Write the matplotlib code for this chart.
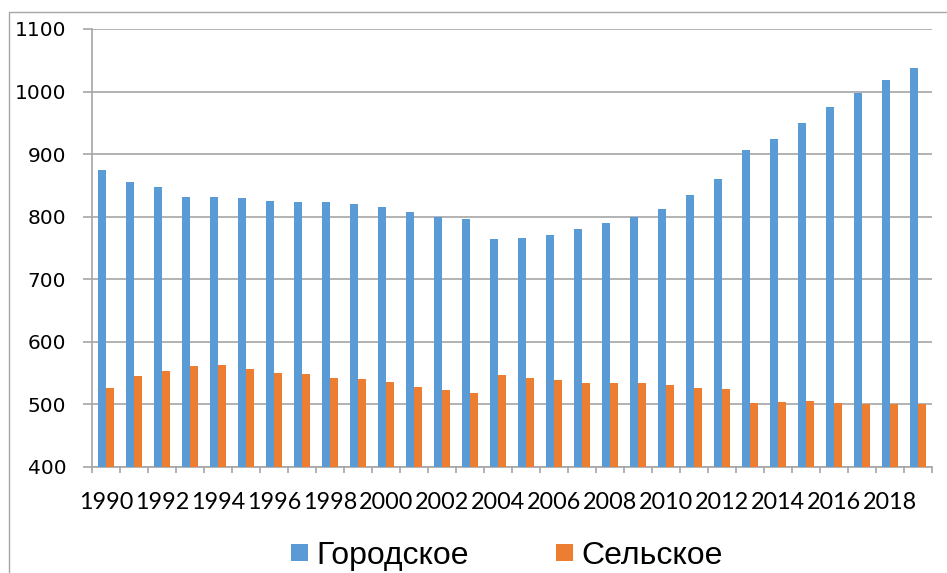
import numpy as np
import matplotlib
matplotlib.use("Agg")
import matplotlib.pyplot as plt
from matplotlib.patches import Rectangle, Patch

years = list(range(1990, 2020))
urban = [875, 856, 847, 832, 832, 830, 825, 823, 824, 821,
         816, 808, 800, 797, 765, 766, 771, 780, 790, 800,
         812, 835, 860, 906, 924, 950, 975, 998, 1018, 1038]
rural = [526, 545, 553, 562, 563, 556, 550, 548, 543, 541,
         536, 528, 523, 519, 547, 543, 539, 535, 534, 535,
         531, 527, 525, 503, 504, 505, 503, 500, 500, 500]
series_names = ["Городское", "Сельское"]
colors = ["#5B9BD5", "#ED7D31"]
yticks = [400, 500, 600, 700, 800, 900, 1000, 1100]

W, H = 947, 573
fig = plt.figure(figsize=(W / 100, H / 100), dpi=100)
ax = fig.add_axes([92 / W, (H - 467) / H, 840 / W, 438 / H])

x = np.arange(len(years))
bw = 0.286
ax.bar(x - bw / 2, urban, width=bw, color=colors[0], zorder=3)
ax.bar(x + bw / 2, rural, width=bw, color=colors[1], zorder=3)

grid_c = "#a6a6a6"
ax.set_xlim(-0.5, len(years) - 0.5)
ax.set_ylim(400, 1100)
ax.set_yticks(yticks)
ax.set_yticklabels([str(v) for v in yticks], fontsize=14.5, family="DejaVu Sans")
ax.yaxis.grid(True, color=grid_c, lw=1.2, zorder=0)
ax.set_axisbelow(True)

ax.set_xticks(x[::2])
ax.set_xticklabels([str(y) for y in years[::2]], fontsize=16.8, family="Lato")
ax.set_xticks(np.arange(-0.5, len(years), 1), minor=True)
ax.tick_params(axis="x", which="major", length=0, pad=18)
ax.tick_params(axis="x", which="minor", length=4.5, color=grid_c, width=1.2)
ax.tick_params(axis="y", length=6.5, color=grid_c, width=1.2, pad=12)

for s in ["top", "right"]:
    ax.spines[s].set_visible(False)
for s in ["left", "bottom"]:
    ax.spines[s].set_color(grid_c)
    ax.spines[s].set_linewidth(1.2)

# outer chart frame
fig.patches.append(Rectangle((9 / W, -0.1), 1.1, 1.1 - 12 / H,
                             transform=fig.transFigure, fill=False,
                             edgecolor="#a6a6a6", lw=1.0))

handles = [Patch(facecolor=c, edgecolor="none") for c in colors]
fig.legend(handles, series_names, loc="center", bbox_to_anchor=(507 / W, 1 - 556 / H),
           ncol=2, frameon=False, prop={"family": "Liberation Sans", "size": 23},
           handlelength=0.53, handleheight=0.47, handletextpad=0.25, columnspacing=2.75)

fig.savefig("out.png", dpi=100)
